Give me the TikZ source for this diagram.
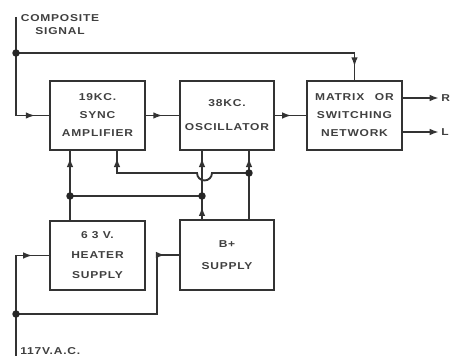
\documentclass[tikz,border=0pt]{standalone}
\usepackage{fontspec}
\setmainfont{Liberation Sans}[FakeStretch=1.2,LetterSpace=8]
\usetikzlibrary{arrows.meta,decorations.markings}

\begin{document}
\begin{tikzpicture}[x=0.75pt,y=-0.75pt,>={Latex[length=7pt,width=5pt]},
 font=\fontsize{7.5}{13.5}\selectfont\bfseries,line width=1.4pt,draw=black!80,text=black!75,
 blockbox/.style={draw,line width=1.6pt,minimum width=71pt,minimum height=51.75pt,align=center,inner sep=0pt},
 tipat/.style={postaction={decorate,decoration={markings,mark=at position #1 with {\arrow{Latex[length=7pt,width=5pt]}}}}}]
\useasboundingbox (0,0) rectangle (451,356);
% blocks
\node[blockbox] (sync) at (97.5,115.5) {19KC.\\SYNC\\AMPLIFIER};
\node[blockbox] (osc) at (227,115.5) {38KC.\\[4.5pt]OSCILLATOR};
\node[blockbox] (matrix) at (354.5,115.5) {MATRIX\hspace{8pt}OR\\SWITCHING\\NETWORK};
\node[blockbox] (heater) at (97.5,255.5) {6 3 V.\\[1.5pt]HEATER\\[1.5pt]SUPPLY};
\node[blockbox,minimum height=52.5pt] (bplus) at (227,255) {B+\\[3pt]SUPPLY};
% labels
\node[align=center,font=\fontsize{7.5}{9.75}\selectfont\bfseries] (compsig) at (60,24.5) {COMPOSITE\\SIGNAL};
\node[anchor=west,inner sep=1pt] (acin) at (18,351) {117V.A.C.};
\node[anchor=west,inner sep=1pt] (outR) at (439,98) {R};
\node[anchor=west,inner sep=1pt] (outL) at (439,132) {L};
% junctions
\coordinate (cs) at (16,17);
\coordinate (sj) at (16,53);
\coordinate (hj) at (70,196);
\coordinate (bj) at (202,196);
\coordinate (bk) at (249,173);
\coordinate (ak) at (117,173);
\coordinate (ac) at (16,356);
\coordinate (aj) at (16,314);
\coordinate (bw) at (157,255);
% signal path
\draw (cs) -- (sj);
\draw[tipat=-10.5pt] (sj) |- (sync.west);
\draw[tipat=-10pt] (sj) -| (matrix.north);
\draw[tipat=-12pt] (sync) -- (osc);
\draw[tipat=-11pt] (osc) -- (matrix);
\draw[->] (matrix.east |- outR) -- (outR);
\draw[->] (matrix.east |- outL) -- (outL);
% supplies
\draw (ac) -- (aj);
\draw[tipat=-12.5pt] (aj) |- (heater.west);
\draw[tipat=-10pt] (aj) -| (bw) -- (bplus.west);
\draw[tipat=-5pt] (heater.north -| hj) -- (sync.south -| hj);
\draw (hj) -- (bj);
\draw[tipat=-8pt] (bplus.north -| bj) -- (bj);
\draw[tipat=-5pt] (bj) -- (osc.south -| bj);
\draw (bplus.north -| bk) -- (bk);
\draw[tipat=-5pt] (bk) -- (osc.south -| bk);
\draw[tipat=-5pt] (bk) -- ([xshift=7.5]bj |- bk) arc (0:180:7.5) -- (ak) -- (sync.south -| ak);
\foreach \p in {sj,hj,bj,bk,aj}
 \fill[black!85] (\p) circle (2.8pt);
\end{tikzpicture}
\end{document}
